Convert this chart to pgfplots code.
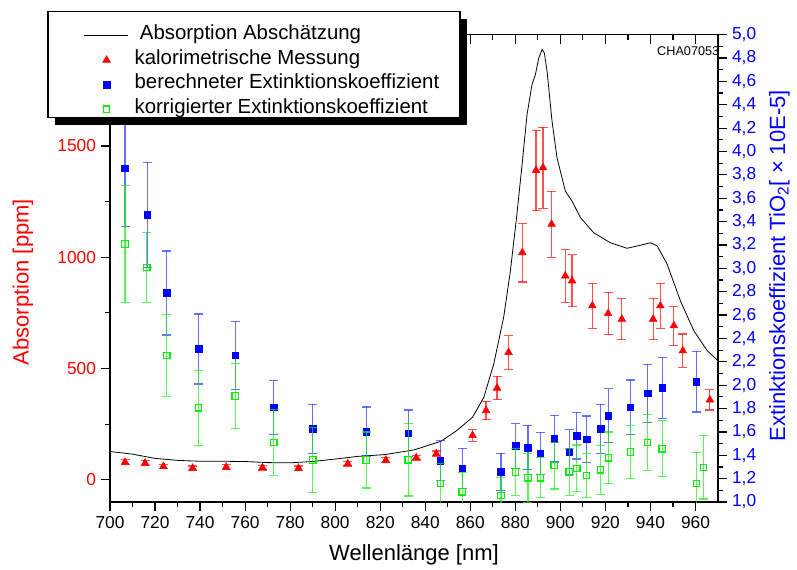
\documentclass[border=0pt]{standalone}
\usepackage{fontspec}
\setmainfont{Liberation Sans}
\usepackage{pgfplots}
\pgfplotsset{compat=1.18}
\definecolor{myred}{RGB}{255,0,0}
\definecolor{myblue}{RGB}{0,0,255}
\definecolor{mygreen}{RGB}{0,240,0}
\definecolor{blueerr}{RGB}{20,40,255}
\definecolor{rederr}{RGB}{255,20,20}
\definecolor{greenerr}{RGB}{20,240,20}

\pgfplotstableread{
x y
700 127
710 115
720 96
730 87
740 83
750 83
760 82
770 77
780 76
790 82
800 93
810 105
822 113
835 134
847 173
854 221
861 281
866 370
870.4 520
874.8 729
877.8 938
880.7 1193
883 1417
885.2 1641
887.4 1776
888.9 1820
890.4 1895
891.9 1933
892.9 1917
894.1 1835
896.3 1611
898.5 1447
902.2 1297
905.2 1252
908.9 1178
914.8 1110
922.2 1065
929.6 1040
935.6 1054
940 1065
943 1051
947.4 969
953.3 804
959.3 669
965.2 580
970 535
}\curve

\pgfplotstableread{
x y e
706.7 79 12
715.6 75 10
723.7 60 10
736.7 52 10
751.6 57 10
767.7 54 10
783.7 52 10
805.6 72 10
822.5 88 12
836.0 99 10
844.9 117 12
861.0 199 26
867.0 311 41
871.9 412 52
877.0 572 75
883.1 1021 132
889.2 1390 181
892.3 1402 182
896.1 1148 148
902.2 916 120
905.2 894 117
914.2 782 101
921.2 747 96
927.3 722 93
941.2 722 93
944.4 782 101
950.4 692 88
954.4 580 75
966.4 359 46
}\kalor

\pgfplotstableread{
x y e
706.7 3.856 0.50
716.6 3.459 0.45
725.2 2.789 0.36
739.3 2.310 0.30
755.6 2.255 0.29
772.6 1.810 0.23
790.1 1.627 0.21
813.8 1.604 0.21
832.4 1.587 0.20
846.7 1.354 0.17
856.4 1.288 0.17
873.6 1.257 0.16
880.1 1.479 0.19
885.6 1.467 0.19
891.1 1.416 0.18
897.3 1.542 0.20
903.9 1.428 0.19
907.3 1.568 0.20
911.6 1.536 0.20
917.9 1.627 0.21
921.3 1.739 0.23
931.1 1.810 0.235
938.7 1.930 0.25
945.2 1.978 0.26
960.4 2.030 0.26
}\berech

\pgfplotstableread{
x y e
706.7 3.208 0.50
716.3 3.008 0.30
725.2 2.255 0.35
739.3 1.807 0.32
755.6 1.907 0.28
772.7 1.510 0.28
790.1 1.360 0.28
813.8 1.360 0.24
832.4 1.362 0.31
846.7 1.157 0.17
856.4 1.088 0.165
873.6 1.057 0.15
880.1 1.257 0.20
885.6 1.208 0.21
891.1 1.208 0.17
897.3 1.311 0.20
903.9 1.257 0.20
907.3 1.288 0.20
911.6 1.228 0.19
917.9 1.276 0.21
921.3 1.379 0.22
931.1 1.428 0.23
938.7 1.510 0.24
945.2 1.456 0.24
960.4 1.157 0.27
963.5 1.296 0.27
}\korr

\pgfplotsset{
  common/.style={
    scale only axis, width=456pt, height=350.5pt,
    at={(0pt,0pt)}, anchor=south west,
    xmin=700, xmax=970,
    xtick={700,720,...,960},
    minor x tick num=1,
    major tick length=7pt, minor tick length=4pt,
    every tick/.style={black, line width=0.9pt},
    every minor tick/.style={black, line width=0.9pt},
    axis line style={line width=1.1pt},
    /pgf/number format/assume math mode=true,
    tick label style={font=\fontsize{13}{15}\selectfont},
    clip mode=individual,
  },
}
\begin{document}
\begin{tikzpicture}
\useasboundingbox (-82.5pt,-50.25pt) rectangle (515.25pt,376.5pt);
\begin{axis}[common,
  axis x line*=bottom, axis y line*=left,
  xtick align=outside, ytick align=outside,
  ymin=-100, ymax=2000,
  ytick={0,500,1000,1500}, minor y tick num=1,
  yticklabel style={myred, /pgf/number format/1000 sep={}},
  xlabel={Wellenlänge [nm]},
  every axis x label/.style={at={(rel axis cs:0.5,-0.113)}, anchor=center, font=\fontsize{16.5}{19}\selectfont},
  ylabel={Absorption [ppm]},
  every axis y label/.style={at={(rel axis cs:-0.1431,0.4704)}, anchor=center, rotate=90, myred, font=\fontsize{16.5}{19}\selectfont},
]
\addplot[black, line width=0.6pt] table[x=x,y=y] {\curve};
\addplot[only marks, mark=triangle*, myred, mark size=3.3pt,
  error bars/.cd, y dir=both, y explicit,
  error bar style={rederr, opacity=0.75, line width=0.9pt},
  error mark options={rederr, opacity=0.75, rotate=90, mark size=3.4pt, line width=0.9pt}]
  table[x=x,y=y,y error=e] {\kalor};
\end{axis}
\begin{axis}[common,
  axis x line*=top, axis y line*=right,
  xtick align=inside, ytick align=outside,
  xticklabels={},
  ymin=1, ymax=5,
  ytick={1,1.2,1.4,1.6,1.8,2,2.2,2.4,2.6,2.8,3,3.2,3.4,3.6,3.8,4,4.2,4.4,4.6,4.8,5},
  minor y tick num=1,
  yticklabel style={myblue, /pgf/number format/.cd, use comma, fixed, fixed zerofill, precision=1},
  ylabel={Extinktionskoeffizient TiO\textsubscript{2}[ × 10E-5]},
  every axis y label/.style={at={(rel axis cs:1.1011,0.5057)}, anchor=center, rotate=90, myblue, font=\fontsize{16.5}{19}\selectfont},
  legend image code/.code={%
    \path[draw=none] (0pt,0pt) -- (62pt,0pt);
    \draw[mark repeat=2, mark phase=2, #1] plot coordinates {(27pt,0pt) (44pt,0pt) (60pt,0pt)};},
  legend cell align=left,
  legend style={at={(rel axis cs:-0.1025,1.0250)}, anchor=north west,
    draw=none, fill=none,
    font=\fontsize{15.3}{18}\selectfont,
    inner xsep=0pt, inner ysep=0pt, row sep=0pt,
    nodes={inner xsep=3pt, inner ysep=0pt, text height=12.5pt, text depth=5.9pt},
  },
]
\addlegendimage{black, line width=0.6pt}
\addlegendentry{\hspace{4pt}Absorption Abschätzung}
\addlegendimage{only marks, mark=triangle*, myred, mark size=3.3pt}
\addlegendentry{kalorimetrische Messung}
\addplot[only marks, mark=square*, myblue, mark size=2.5pt,
  error bars/.cd, y dir=both, y explicit,
  error bar style={blueerr, opacity=0.65, line width=0.9pt},
  error mark options={blueerr, opacity=0.65, rotate=90, mark size=3.4pt, line width=0.9pt}]
  table[x=x,y=y,y error=e] {\berech};
\addlegendentry{berechneter Extinktionskoeffizient}
\addplot[only marks, mark=square, mygreen, mark size=2.4pt, mark options={fill=white, line width=0.9pt},
  error bars/.cd, y dir=both, y explicit,
  error bar style={greenerr, opacity=0.7, line width=0.9pt},
  error mark options={greenerr, opacity=0.7, rotate=90, mark size=3.4pt, line width=0.9pt}]
  table[x=x,y=y,y error=e] {\korr};
\addlegendentry{korrigierter Extinktionskoeffizient}
\node[font=\fontsize{9.5}{11}\selectfont] at (rel axis cs:0.951,0.964) {CHA07053};
\fill[black, xshift=5.25pt, yshift=-5.25pt] (rel axis cs:-0.102,1.0492) rectangle (rel axis cs:0.5757,0.8224);
\draw[black, fill=white, line width=0.8pt] (rel axis cs:-0.102,1.0492) rectangle (rel axis cs:0.5757,0.8224);
\end{axis}
\end{tikzpicture}
\end{document}
